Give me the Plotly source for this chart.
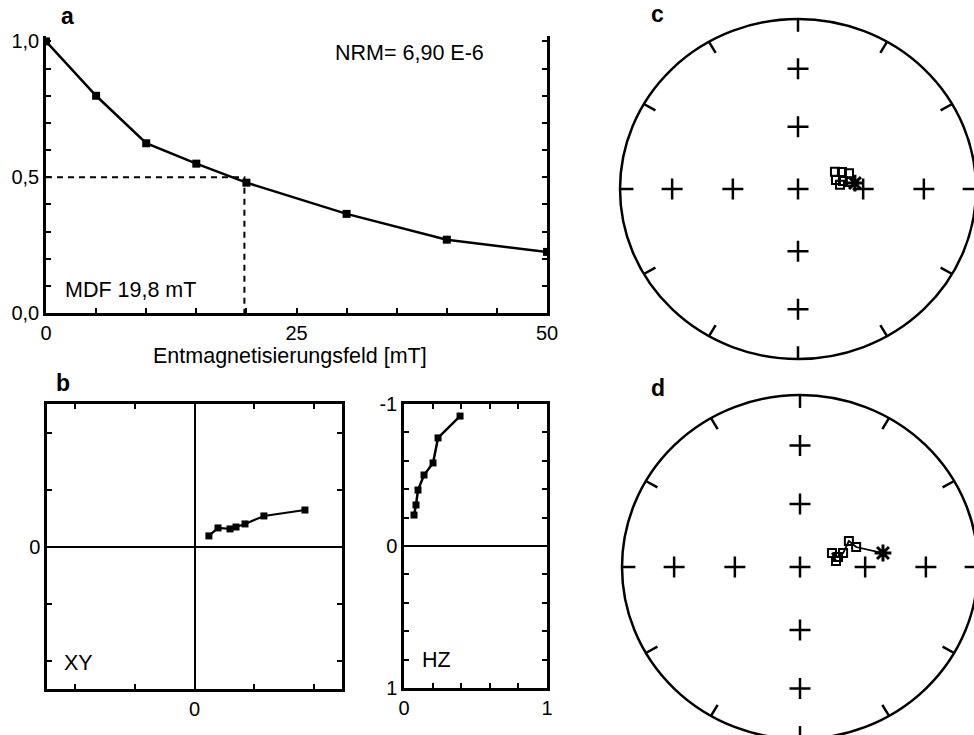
import numpy as np
import plotly.graph_objects as go

W, H = 974, 735
FONT = "Liberation Sans"

# ---- a: AF demagnetisation curve ----
field_mT = [0, 5, 10, 15, 20, 30, 40, 50]
rel_mag = [1.0, 0.80, 0.625, 0.55, 0.48, 0.365, 0.27, 0.225]
mdf_mT = 19.8
nrm_text = "NRM= 6,90 E-6"
mdf_text = "MDF 19,8 mT"
a_xticks = list(range(0, 51, 5))
a_xlabels = ["0", "", "", "", "", "25", "", "", "", "", "50"]
a_yticks = [round(v * 0.1, 1) for v in range(11)]
a_ylabels = ["0,0", "", "", "", "", "0,5", "", "", "", "", "1,0"]

# ---- b: orthogonal projections ----
xy_x = [0.12, 0.196, 0.296, 0.346, 0.421, 0.579, 0.921]
xy_y = [0.093, 0.163, 0.154, 0.171, 0.198, 0.268, 0.32]
hz_h = [0.070, 0.084, 0.098, 0.140, 0.203, 0.238, 0.392]
hz_z = [-0.218, -0.289, -0.394, -0.500, -0.585, -0.761, -0.915]
xy_ticks = [-1, -0.5, 0, 0.5, 1]
xy_labels = ["", "", "0", "", ""]
hz_xticks = [0, 0.2, 0.4, 0.6, 0.8, 1]
hz_xlabels = ["0", "", "", "", "", "1"]
hz_yticks = [-1, -0.8, -0.6, -0.4, -0.2, 0, 0.2, 0.4, 0.6, 0.8, 1]
hz_ylabels = ["-1", "", "", "", "", "0", "", "", "", "", "1"]

# ---- c, d: equal-area stereonets (declination, inclination in degrees) ----
c_nrm = (83.8, 63.7)
c_dec = [64, 68, 72, 76, 79.5, 82, 84]
c_inc = [71.2, 68.3, 65.4, 72.1, 69.1, 66.0, 70.7]
d_nrm = (80.1, 50.9)
d_dec = [69.8, 61.2, 71.5, 74.8, 65.8, 80.2]
d_inc = [62.5, 64.4, 69.2, 72.0, 74.0, 73.3]
grid_inc = [60, 30]
grid_dec = [0, 90, 180, 270]
rim_ticks_deg = list(range(0, 360, 30))


def px_x(p):
    return p / W


def px_y(p):
    return 1 - p / H


def project(dec, inc):
    dec = np.radians(np.asarray(dec, dtype=float))
    inc = np.asarray(inc, dtype=float)
    r = np.sqrt(2) * np.sin(np.radians((90 - inc) / 2))
    return r * np.sin(dec), r * np.cos(dec)


fig = go.Figure()
black = "black"

# panel a
fig.add_trace(go.Scatter(x=[0, mdf_mT, mdf_mT], y=[0.5, 0.5, 0], mode="lines",
                         line=dict(color=black, width=2, dash="6px,5px"),
                         xaxis="x", yaxis="y", showlegend=False))
fig.add_trace(go.Scatter(x=field_mT, y=rel_mag, mode="lines+markers",
                         line=dict(color=black, width=2.5),
                         marker=dict(symbol="square", size=8, color=black),
                         xaxis="x", yaxis="y", showlegend=False))

# panel b
fig.add_trace(go.Scatter(x=xy_x, y=xy_y, mode="lines+markers",
                         line=dict(color=black, width=2.2),
                         marker=dict(symbol="square", size=7, color=black),
                         xaxis="x2", yaxis="y2", showlegend=False))
fig.add_trace(go.Scatter(x=hz_h, y=hz_z, mode="lines+markers",
                         line=dict(color=black, width=2.5),
                         marker=dict(symbol="square", size=7, color=black),
                         xaxis="x3", yaxis="y3", showlegend=False))

# stereonets
gx, gy = [0.0], [0.0]
for inc in grid_inc:
    px_, py_ = project(grid_dec, [inc] * len(grid_dec))
    gx += list(px_)
    gy += list(py_)

shapes = []
for ax_x, ax_y, dec, inc, nrm, with_line in [
    ("x4", "y4", c_dec, c_inc, c_nrm, False),
    ("x5", "y5", d_dec, d_inc, d_nrm, True),
]:
    fig.add_trace(go.Scatter(x=gx, y=gy, mode="markers",
                             marker=dict(symbol="cross-thin", size=15, color=black,
                                         line=dict(color=black, width=2.5)),
                             xaxis=ax_x, yaxis=ax_y, showlegend=False))
    sx, sy = project([nrm[0]] + dec, [nrm[1]] + inc)
    if with_line:
        fig.add_trace(go.Scatter(x=sx, y=sy, mode="lines",
                                 line=dict(color=black, width=1.8),
                                 xaxis=ax_x, yaxis=ax_y, showlegend=False))
    fig.add_trace(go.Scatter(x=sx[1:], y=sy[1:], mode="markers",
                             marker=dict(symbol="square-open", size=8, color=black,
                                         line=dict(color=black, width=2)),
                             xaxis=ax_x, yaxis=ax_y, showlegend=False))
    fig.add_trace(go.Scatter(x=[sx[0]], y=[sy[0]], mode="markers",
                             marker=dict(symbol="asterisk-open", size=14, color=black,
                                         line=dict(color=black, width=3)),
                             xaxis=ax_x, yaxis=ax_y, showlegend=False))
    shapes.append(dict(type="circle", xref=ax_x, yref=ax_y, x0=-1, x1=1, y0=-1, y1=1,
                       line=dict(color=black, width=2.5)))
    for t in rim_ticks_deg:
        a = np.radians(t)
        shapes.append(dict(type="line", xref=ax_x, yref=ax_y,
                           x0=np.sin(a), y0=np.cos(a),
                           x1=0.925 * np.sin(a), y1=0.925 * np.cos(a),
                           line=dict(color=black, width=2.5)))

axis_common = dict(showline=True, linecolor=black, linewidth=2.5, ticks="inside",
                   ticklen=5, tickwidth=2, tickcolor=black, showgrid=False,
                   tickfont=dict(family=FONT, size=20, color=black))

hidden = dict(visible=False, showgrid=False, zeroline=False)

fig.update_layout(
    width=W, height=H, margin=dict(l=0, r=0, t=0, b=0, autoexpand=False),
    paper_bgcolor="white", plot_bgcolor="white",
    font=dict(family=FONT, color=black),
    xaxis=dict(axis_common, domain=[px_x(46), px_x(547)], range=[0, 50],
               tickmode="array", tickvals=a_xticks, ticktext=a_xlabels,
               zeroline=False, mirror=False, anchor="y"),
    yaxis=dict(axis_common, domain=[px_y(313), px_y(36)], range=[0, 1.02],
               tickmode="array", tickvals=a_yticks, ticktext=a_ylabels,
               zeroline=False, mirror="ticks", anchor="x"),
    xaxis2=dict(axis_common, domain=[px_x(47), px_x(342)], range=[-1.23, 1.23],
                tickmode="array", tickvals=xy_ticks, ticktext=xy_labels,
                zeroline=True, zerolinecolor=black, zerolinewidth=2.2,
                mirror="ticks", anchor="y2"),
    yaxis2=dict(axis_common, domain=[px_y(689), px_y(404)], range=[-1.25, 1.25],
                tickmode="array", tickvals=xy_ticks, ticktext=xy_labels,
                zeroline=True, zerolinecolor=black, zerolinewidth=2.2,
                mirror="ticks", anchor="x2"),
    xaxis3=dict(axis_common, domain=[px_x(404), px_x(547)], range=[0, 1],
                tickmode="array", tickvals=hz_xticks, ticktext=hz_xlabels,
                zeroline=False, mirror="ticks", anchor="y3"),
    yaxis3=dict(axis_common, domain=[px_y(688), px_y(404)], range=[1, -1],
                tickmode="array", tickvals=hz_yticks, ticktext=hz_ylabels,
                zeroline=True, zerolinecolor=black, zerolinewidth=2.2,
                mirror="ticks", anchor="x3"),
    xaxis4=dict(hidden, domain=[px_x(618), 1], range=[-180 / 178, 176 / 178], anchor="y4"),
    yaxis4=dict(hidden, domain=[px_y(364), px_y(14)], range=[-175 / 170, 175 / 170], anchor="x4"),
    xaxis5=dict(hidden, domain=[px_x(620), 1], range=[-180 / 178, 174 / 178], anchor="y5"),
    yaxis5=dict(hidden, domain=[0, px_y(391)], range=[-168 / 172, 176 / 172], anchor="x5"),
    shapes=shapes,
)


def label(text, x, y, size=21.5, bold=False, xanchor="center"):
    fig.add_annotation(text=f"<b>{text}</b>" if bold else text,
                       x=px_x(x), y=px_y(y), xref="paper", yref="paper",
                       xanchor=xanchor, yanchor="middle", showarrow=False,
                       font=dict(family=FONT, size=size, color=black))


label("a", 67, 16, size=23, bold=True)
label("b", 63, 383, size=23, bold=True)
label("c", 657, 14, size=23, bold=True)
label("d", 658, 388, size=23, bold=True)
label(nrm_text, 333, 53, xanchor="left")
label(mdf_text, 63, 290, xanchor="left")
label("Entmagnetisierungsfeld [mT]", 290, 356)
label("XY", 62, 663, xanchor="left")
label("HZ", 420, 660, xanchor="left")

fig.write_html("out.html")
